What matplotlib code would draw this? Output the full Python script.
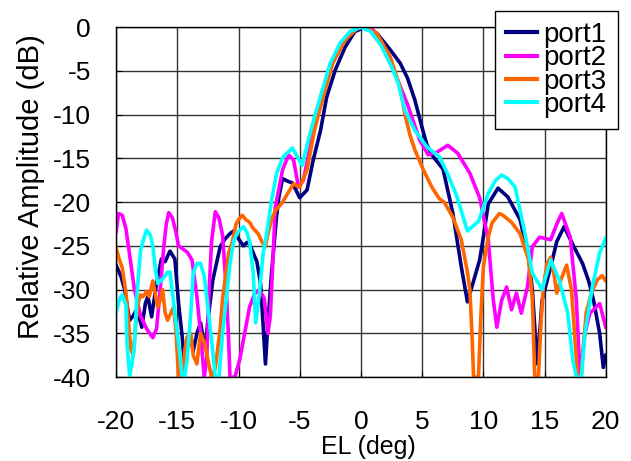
# elevation_cut.py
# Elevation pattern cut for the four ports, normalised to the peak

import matplotlib.pyplot as plt

plt.rcParams["font.family"] = ["Liberation Sans", "DejaVu Sans"]
plt.rcParams["axes.unicode_minus"] = False

# --- Measured cuts (EL in deg, relative amplitude in dB) ---

el_port1 = [-20.0, -19.6, -19.3, -18.9, -18.6, -18.3, -17.9, -17.6, -17.4, -17.1,
            -16.7, -16.3, -16.0, -15.6, -15.2, -14.9, -14.6, -14.4, -14.1, -13.9,
            -13.7, -13.4, -13.1, -12.9, -12.7, -12.5, -12.1, -11.8, -11.5, -11.1,
            -10.7, -10.4, -10.0, -9.6, -9.3, -9.1, -8.8, -8.5, -8.2, -8.0,
            -7.8, -7.6, -7.3, -6.9, -6.7, -6.4, -6.0, -5.6, -5.0, -4.4,
            -3.9, -3.3, -2.8, -2.1, -1.3, -0.5, 0.3, 1.3, 2.4, 3.2,
            3.8, 4.4, 5.0, 5.4, 5.9, 6.7, 7.5, 8.2, 8.7, 9.1,
            9.7, 10.0, 10.4, 11.2, 12.0, 13.0, 13.7, 14.0, 14.4, 14.6,
            14.8, 15.5, 16.0, 16.6, 17.4, 18.1, 18.6, 19.0, 19.5, 19.8, 20.0]
amp_port1 = [-27.2, -28.5, -30.0, -33.5, -33.0, -32.2, -34.3, -31.5, -30.8, -33.1,
             -29.3, -26.5, -26.8, -25.6, -26.5, -31.5, -35.4, -38.9, -36.0, -35.4,
             -37.0, -35.0, -33.8, -35.5, -36.6, -33.5, -28.9, -27.0, -25.1, -24.2,
             -23.6, -23.3, -24.2, -25.0, -24.6, -24.8, -25.8, -26.8, -29.3, -33.8,
             -38.5, -33.8, -28.1, -21.7, -19.4, -17.3, -17.6, -17.8, -19.5, -18.6,
             -15.2, -11.8, -8.0, -4.9, -2.3, -0.5, 0.0, -0.7, -2.6, -4.1,
             -5.8, -8.3, -11.5, -13.5, -14.8, -16.2, -21.2, -27.4, -31.4, -29.5,
             -26.6, -24.0, -20.2, -18.4, -19.4, -22.0, -26.3, -30.0, -38.5, -35.0,
             -31.2, -27.4, -24.5, -22.8, -25.1, -27.0, -29.0, -31.2, -35.0, -38.9, -37.5]

el_port2 = [-20.0, -19.8, -19.5, -19.2, -18.9, -18.5, -18.0, -17.5, -17.0, -16.7,
            -16.4, -16.1, -15.9, -15.7, -15.4, -15.1, -14.9, -14.5, -14.2, -13.8,
            -13.4, -13.1, -12.8, -12.6, -12.4, -12.2, -11.9, -11.6, -11.3, -11.0,
            -10.8, -10.7, -10.3, -9.9, -9.5, -9.1, -8.7, -8.3, -7.9, -7.6,
            -7.4, -7.2, -7.0, -6.4, -5.9, -5.5, -5.1, -4.7, -4.2, -3.7,
            -3.1, -2.4, -1.6, -0.8, 0.0, 1.0, 2.1, 2.9, 3.8, 4.8,
            5.5, 6.2, 7.1, 7.9, 8.9, 9.7, 10.4, 10.8, 11.1, 11.5,
            11.9, 12.3, 12.7, 13.1, 13.6, 14.0, 14.6, 15.5, 16.0, 16.4,
            17.1, 17.6, 17.9, 18.3, 18.7, 19.5, 20.0]
amp_port2 = [-23.4, -21.3, -21.5, -23.0, -26.0, -30.0, -33.0, -34.5, -35.5, -34.5,
             -30.0, -25.0, -22.5, -21.2, -21.8, -23.5, -25.0, -25.4, -25.7, -26.6,
             -30.8, -35.0, -40.0, -38.0, -30.0, -24.5, -21.1, -21.8, -23.8, -30.0,
             -36.0, -40.0, -40.0, -38.0, -35.0, -32.0, -30.5, -30.0, -31.0, -35.0,
             -33.0, -27.0, -20.6, -16.3, -14.6, -15.2, -18.3, -17.5, -14.0, -10.8,
             -7.6, -4.3, -2.0, -0.5, 0.0, -0.3, -3.0, -5.7, -8.8, -12.9,
             -14.6, -14.3, -13.5, -14.4, -16.7, -19.5, -24.3, -31.0, -34.3, -31.2,
             -29.7, -32.3, -30.4, -32.7, -29.7, -25.1, -24.0, -24.3, -22.5, -21.3,
             -24.0, -31.2, -40.0, -35.0, -32.7, -31.6, -34.3]

el_port3 = [-20.0, -19.8, -19.5, -19.2, -19.0, -18.8, -18.6, -18.4, -18.2, -18.0,
            -17.8, -17.5, -17.3, -17.0, -16.8, -16.6, -16.4, -16.2, -16.0, -15.8,
            -15.5, -15.3, -15.1, -14.9, -14.6, -14.4, -14.2, -13.9, -13.7, -13.4,
            -13.1, -12.8, -12.5, -12.2, -11.9, -11.5, -11.3, -11.1, -10.8, -10.5,
            -10.2, -10.0, -9.7, -9.4, -9.1, -8.8, -8.4, -8.1, -7.8, -7.6,
            -7.3, -7.0, -6.4, -5.9, -5.5, -5.0, -4.4, -3.8, -3.1, -2.3,
            -1.3, -0.3, 0.3, 1.3, 2.4, 3.2, 3.6, 4.0, 4.4, 5.1,
            5.8, 6.4, 6.8, 7.5, 8.2, 8.7, 8.9, 9.1, 9.2, 9.6,
            9.8, 10.0, 10.4, 10.7, 11.3, 11.6, 12.3, 13.0, 13.7, 14.0,
            14.2, 14.5, 14.7, 14.9, 15.2, 15.5, 15.8, 16.0, 16.3, 16.8,
            17.2, 17.5, 17.7, 18.0, 18.2, 18.4, 18.8, 19.3, 19.7, 20.0]
amp_port3 = [-25.2, -26.3, -27.5, -30.3, -33.5, -36.8, -37.5, -34.0, -31.5, -30.6,
             -30.8, -30.2, -30.8, -29.0, -30.5, -32.0, -31.2, -30.0, -32.6, -33.5,
             -32.6, -32.0, -35.0, -40.0, -40.0, -37.0, -35.4, -35.0, -37.5, -38.5,
             -35.0, -36.0, -38.0, -40.0, -39.0, -34.5, -31.0, -28.9, -25.8, -24.5,
             -22.5, -22.0, -21.5, -22.0, -22.3, -23.0, -23.6, -24.5, -25.1, -23.6,
             -22.0, -21.0, -20.0, -18.8, -17.9, -18.3, -16.3, -11.8, -8.0, -4.1,
             -1.5, -0.1, 0.0, -0.7, -3.4, -6.9, -10.0, -12.3, -14.0, -16.3,
             -18.3, -19.6, -20.0, -21.7, -24.3, -28.0, -30.0, -36.0, -40.0, -40.0,
             -33.0, -27.4, -24.0, -22.4, -21.3, -21.5, -22.3, -23.6, -26.6, -31.0,
             -40.0, -40.0, -34.0, -29.7, -27.0, -26.3, -28.5, -30.4, -29.0, -27.2,
             -30.0, -36.0, -40.0, -40.0, -36.0, -32.7, -30.5, -28.9, -28.4, -29.0]

el_port4 = [-20.0, -19.7, -19.5, -19.2, -19.1, -18.9, -18.7, -18.5, -18.3, -18.0,
            -17.7, -17.5, -17.2, -17.0, -16.8, -16.6, -16.2, -15.8, -15.6, -15.3,
            -15.0, -14.8, -14.6, -14.4, -14.2, -13.9, -13.7, -13.4, -13.1, -12.8,
            -12.6, -12.2, -11.9, -11.6, -11.3, -11.0, -10.7, -10.4, -10.1, -9.6,
            -9.3, -9.1, -8.8, -8.6, -8.3, -8.0, -7.7, -7.3, -6.9, -6.4,
            -5.6, -5.2, -4.8, -4.3, -3.8, -3.2, -2.5, -1.7, -0.9, 0.0,
            0.8, 1.6, 2.4, 3.0, 3.6, 4.4, 5.4, 6.4, 7.0, 7.8,
            8.7, 9.6, 10.4, 11.0, 11.5, 12.0, 12.6, 13.4, 14.0, 14.8,
            15.5, 16.2, 16.9, 17.3, 17.6, 18.0, 18.3, 18.9, 19.5, 20.0]
amp_port4 = [-32.6, -31.0, -30.6, -31.8, -36.3, -39.8, -38.5, -36.3, -30.6, -25.5,
             -24.0, -23.2, -23.8, -25.0, -27.5, -29.3, -28.8, -28.0, -28.0, -31.5,
             -35.0, -37.3, -40.0, -40.0, -38.0, -32.7, -28.1, -27.0, -27.0, -28.5,
             -30.8, -35.8, -40.0, -40.0, -35.0, -31.0, -27.0, -24.5, -23.5, -22.8,
             -23.5, -24.5, -28.0, -33.8, -30.5, -26.0, -23.6, -19.8, -16.8, -14.9,
             -13.8, -14.8, -15.8, -12.9, -10.3, -7.4, -4.1, -1.8, -0.5, 0.0,
             -0.5, -2.0, -4.2, -6.2, -9.5, -11.8, -13.7, -14.8, -16.5, -19.2,
             -23.3, -22.2, -19.0, -17.5, -16.9, -17.3, -18.3, -23.6, -28.1, -30.0,
             -26.6, -28.9, -32.7, -38.0, -40.0, -40.0, -35.0, -29.7, -25.8, -24.1]

ports = ["port1", "port2", "port3", "port4"]
colors = ["#000080", "#FF00FF", "#FF6600", "#00FFFF"]

x_ticks = [-20, -15, -10, -5, 0, 5, 10, 15, 20]
y_ticks = [0, -5, -10, -15, -20, -25, -30, -35, -40]

# --- Plot ---

fig = plt.figure(figsize=(6.31, 4.61), dpi=100)
ax = fig.add_axes([0.184, 0.182, 0.776, 0.759])

series = [(el_port1, amp_port1), (el_port2, amp_port2),
          (el_port3, amp_port3), (el_port4, amp_port4)]
for (el, amp), name, col in zip(series, ports, colors):
    ax.plot(el, amp, color=col, lw=2.6, label=name, solid_joinstyle="round")

ax.set_xlim(-20, 20)
ax.set_ylim(-40, 0)
ax.set_xticks(x_ticks)
ax.set_yticks(y_ticks)
ax.grid(True, color="#333333", lw=1.0)
ax.set_axisbelow(True)
for s in ax.spines.values():
    s.set_color("black")
    s.set_linewidth(1.0)

ax.tick_params(axis="both", direction="in", length=4, labelsize=19)
ax.tick_params(axis="y", pad=18)
ax.tick_params(axis="x", pad=24)

# axis titles sit a little off-centre, like the original sheet
ax.set_xlabel("EL (deg)", fontsize=18)
ax.xaxis.set_label_coords(0.516, -0.165, transform=ax.transAxes)
ax.xaxis.label.set_va("top")
ax.set_ylabel("Relative Amplitude (dB)", fontsize=21)
ax.yaxis.set_label_coords(-0.146, 0.545, transform=ax.transAxes)

leg = ax.legend(loc="upper right", bbox_to_anchor=(0.979, 0.976),
                bbox_transform=fig.transFigure, fontsize=20, frameon=True,
                fancybox=False, edgecolor="black", framealpha=1.0,
                handlelength=1.1, handletextpad=0.25, labelspacing=-0.1,
                borderpad=0.4, borderaxespad=0)
leg.get_frame().set_linewidth(1.0)
for h in leg.legend_handles:
    h.set_linewidth(3.0)

plt.savefig("out.png", dpi=100)
plt.close()
